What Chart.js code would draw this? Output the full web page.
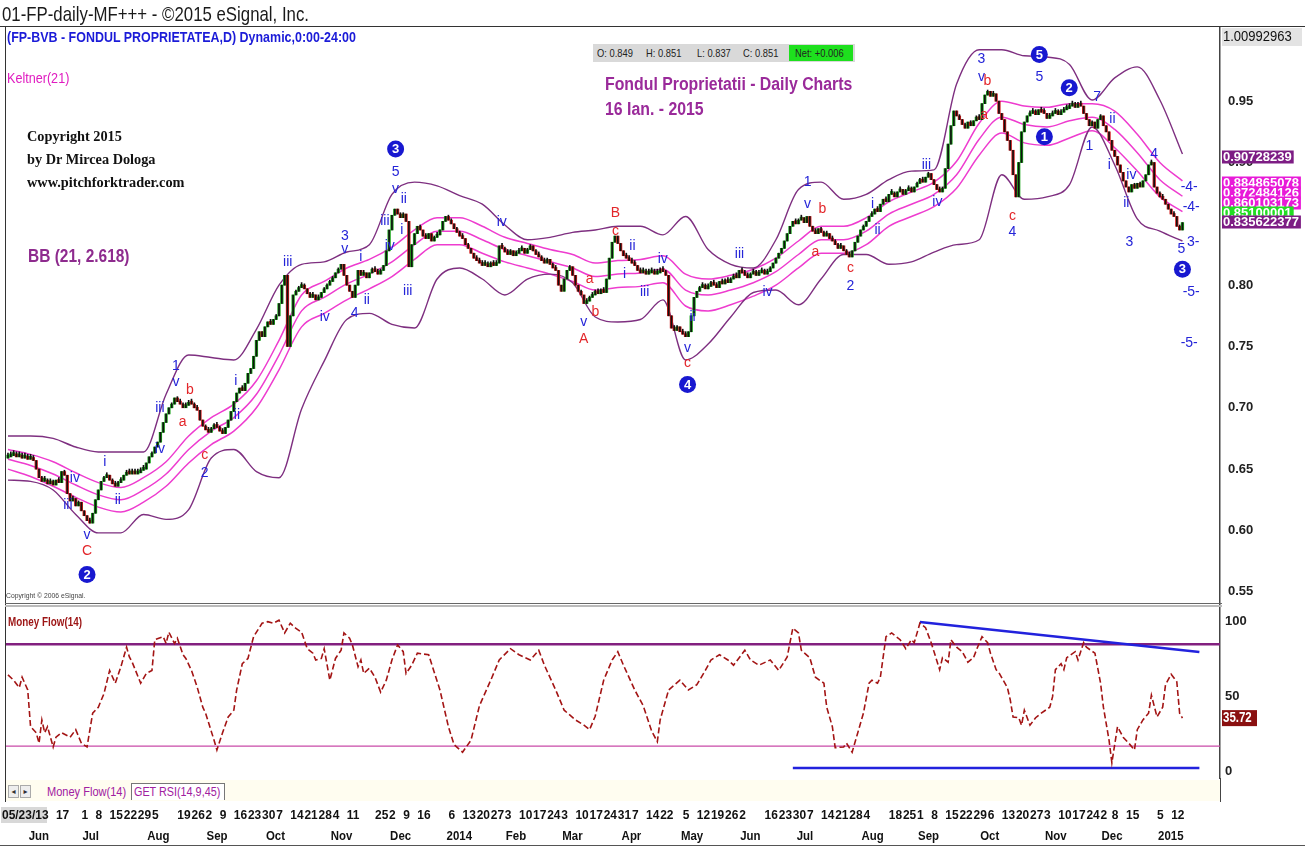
<!DOCTYPE html>
<html><head><meta charset="utf-8">
<script src="https://cdn.jsdelivr.net/npm/chart.js"></script>
<style>
html,body{margin:0;padding:0;background:#fff;}
body{width:1305px;height:847px;position:relative;overflow:hidden;font-family:"Liberation Sans",Arial,sans-serif;}
canvas{position:absolute;left:0;}
#c1{top:0}
#c2{top:605px}
.t{position:absolute;white-space:nowrap;line-height:1;transform-origin:0 0;}
.ln{position:absolute;}
</style></head>
<body>
<canvas id="c1" width="1305" height="605"></canvas>
<canvas id="c2" width="1305" height="242"></canvas>

<div class="t" style="left:2px;top:3px;font-size:21px;color:#1a1a1a;transform:scaleX(0.8)">01-FP-daily-MF+++ - ©2015 eSignal, Inc.</div>
<div class="ln" style="left:0;top:26px;width:1305px;height:1px;background:#333"></div>
<div class="ln" style="left:5px;top:27px;width:1px;height:775px;background:#333"></div>
<div class="t" style="left:7px;top:30px;font-size:14px;font-weight:bold;color:#1b1bd8;transform:scaleX(0.89)">(FP-BVB - FONDUL PROPRIETATEA,D) Dynamic,0:00-24:00</div>
<div class="t" style="left:7px;top:71px;font-size:14px;color:#e01bc0;transform:scaleX(0.9)">Keltner(21)</div>
<div class="t" style="left:27px;top:125px;font-family:'Liberation Serif',serif;font-weight:bold;font-size:14.3px;color:#111;line-height:23px">Copyright 2015<br>by Dr Mircea Dologa<br>www.pitchforktrader.com</div>
<div class="t" style="left:28px;top:247px;font-size:18px;font-weight:bold;color:#8e2b8e;transform:scaleX(0.86)">BB (21, 2.618)</div>

<div class="ln" style="left:593px;top:44px;width:262px;height:18px;background:#d9d9d9"></div>
<div class="t" style="left:597px;top:48px;font-size:11px;color:#222;transform:scaleX(0.85)">O: 0.849</div>
<div class="t" style="left:646px;top:48px;font-size:11px;color:#222;transform:scaleX(0.85)">H: 0.851</div>
<div class="t" style="left:697px;top:48px;font-size:11px;color:#222;transform:scaleX(0.85)">L: 0.837</div>
<div class="t" style="left:743px;top:48px;font-size:11px;color:#222;transform:scaleX(0.85)">C: 0.851</div>
<div class="ln" style="left:789px;top:45px;width:64px;height:16px;background:#1ee01e"></div>
<div class="t" style="left:795px;top:48px;font-size:11px;color:#222;transform:scaleX(0.85)">Net: +0.006</div>

<div class="t" style="left:605px;top:75px;font-size:18px;font-weight:bold;color:#9a2a9a;transform:scaleX(0.88)">Fondul Proprietatii - Daily Charts</div>
<div class="t" style="left:605px;top:100px;font-size:18px;font-weight:bold;color:#9a2a9a;transform:scaleX(0.88)">16 Ian. - 2015</div>
<div class="t" style="left:6px;top:592px;font-size:8px;color:#444;transform:scaleX(0.85)">Copyright © 2006 eSignal.</div>

<div class="ln" style="left:5px;top:603px;width:1217px;height:1px;background:#666"></div>
<div class="ln" style="left:5px;top:605px;width:1217px;height:2px;background:#bbb"></div>
<div class="t" style="left:8px;top:615px;font-size:13px;font-weight:bold;color:#9c1414;transform:scaleX(0.76)">Money Flow(14)</div>

<div class="ln" style="left:6px;top:780px;width:1214px;height:21px;background:#fffdf0"></div>
<div class="ln" style="left:1220px;top:778px;width:1px;height:24px;background:#444"></div>
<div class="t" style="left:8px;top:785px;width:9px;height:11px;border:1px solid #aaa;background:#eee;font-family:'DejaVu Sans';font-size:8px;text-align:center;line-height:11px;color:#333">◂</div>
<div class="t" style="left:20px;top:785px;width:9px;height:11px;border:1px solid #aaa;background:#eee;font-family:'DejaVu Sans';font-size:8px;text-align:center;line-height:11px;color:#333">▸</div>
<div class="t" style="left:47px;top:786px;font-size:12px;color:#a020a0;transform:scaleX(0.92)">Money Flow(14)</div>
<div class="ln" style="left:131px;top:783px;width:92px;height:16px;border:1px solid #777;border-bottom:none;background:#fff"></div>
<div class="t" style="left:134px;top:786px;font-size:12px;color:#a020a0;transform:scaleX(0.9)">GET RSI(14,9,45)</div>
<div class="ln" style="left:0;top:845px;width:1305px;height:1px;background:#555"></div>

<script>
// ---------------- DATA ----------------
// daily closes, bar 0 = 05/23/13 ... bar 416 = 01/16/15
const closes = [
0.660,0.661,0.662,0.660,0.661,0.659,0.660,0.658,0.659,0.657,
0.650,0.643,0.640,
0.641,0.638,0.640,0.637,0.641,0.639,
0.648,0.645,
0.630,0.624,0.626,0.620,0.623,
0.616,0.612,0.608,0.606,
0.614,0.625,0.633,0.640,
0.643,0.645,0.641,0.638,0.636,0.639,0.641,
0.645,0.647,0.646,0.648,0.646,0.647,0.649,0.650,
0.655,0.660,0.663,0.668,0.672,
0.680,0.688,0.695,0.700,0.703,
0.708,0.705,0.703,0.700,
0.702,0.704,0.703,0.700,0.698,
0.690,0.685,0.682,0.680,0.683,
0.686,0.684,0.681,0.679,0.684,
0.690,0.697,0.705,0.712,
0.716,0.714,0.720,0.728,0.732,
0.742,0.755,0.762,0.758,
0.766,0.770,0.768,0.772,0.775,
0.785,0.800,0.808,0.750,0.775,0.792,
0.795,0.798,0.800,0.797,0.793,0.790,0.792,0.788,0.790,0.794,0.797,0.800,
0.803,0.806,0.810,0.813,0.817,
0.808,0.800,0.795,0.790,
0.800,0.812,0.808,0.810,0.806,
0.810,0.813,0.811,0.809,0.812,0.816,
0.828,0.845,0.857,0.862,
0.858,0.855,0.858,0.852,
0.815,
0.833,0.842,0.848,0.845,
0.840,0.838,0.842,0.836,0.839,0.841,0.845,0.852,
0.856,0.853,0.850,
0.846,0.843,0.840,0.838,0.833,0.830,
0.826,0.822,0.820,0.818,0.816,
0.817,0.815,0.818,0.816,0.818,
0.832,
0.830,0.827,0.825,0.828,0.824,0.826,
0.828,0.830,0.826,0.829,0.832,0.828,0.825,0.823,
0.820,0.818,0.821,0.817,0.814,0.812,
0.800,0.795,0.805,0.812,
0.815,0.808,0.800,0.795,0.792,
0.785,0.787,0.790,
0.792,0.795,0.793,0.796,0.794,
0.805,0.822,0.835,0.840,
0.834,0.828,0.824,0.822,0.820,
0.818,0.816,0.812,0.810,0.811,0.809,
0.810,0.811,0.809,0.810,0.812,0.811,0.808,
0.775,
0.765,0.763,0.766,0.762,0.760,0.758,0.762,
0.775,0.790,0.795,0.798,
0.800,0.797,0.799,0.802,0.800,0.798,0.803,0.801,0.804,0.802,0.805,0.807,0.806,
0.812,0.810,0.808,0.806,0.809,0.811,0.808,0.810,0.812,0.809,0.811,0.814,
0.818,0.822,0.826,0.830,0.836,0.842,0.848,
0.852,0.850,0.853,0.855,0.851,0.856,
0.848,0.844,0.842,0.846,0.843,0.840,0.842,0.838,
0.836,0.833,0.830,0.832,0.828,0.825,0.823,
0.828,0.835,0.840,0.845,0.848,0.852,0.856,
0.858,0.862,0.860,0.866,0.870,0.868,0.874,
0.875,0.872,0.876,0.878,0.874,0.877,0.879,0.876,
0.880,0.883,0.886,0.884,0.888,0.891,0.886,0.882,0.878,
0.876,0.879,
0.895,0.915,0.930,0.942,0.938,
0.935,0.931,0.928,0.933,0.930,0.934,0.937,0.935,
0.948,0.955,0.958,0.954,0.956,
0.950,0.940,0.935,
0.925,0.918,0.910,
0.890,0.872,
0.900,0.925,0.933,
0.938,0.940,0.942,0.939,0.943,0.941,0.940,0.936,0.938,0.940,0.942,0.939,0.941,0.943,
0.944,0.946,0.948,0.945,0.947,0.946,
0.940,0.935,0.930,0.933,0.928,
0.935,0.938,0.930,0.925,0.918,
0.910,0.905,0.898,0.892,
0.885,0.880,0.876,0.882,
0.879,0.883,0.880,0.885,
0.890,0.898,0.900,
0.880,0.875,0.872,0.870,
0.866,0.862,0.858,0.856,
0.848,0.845,0.851
];
const firstOpen = 0.659;

// indicator bands read every 8 bars
const bandBars = [0,8,16,24,32,40,48,56,64,72,80,88,96,104,112,120,128,136,144,152,160,168,176,184,192,200,208,216,224,232,240,248,256,264,272,280,288,296,304,312,320,328,336,344,352,360,368,376,384,392,400,408,416];
const bbUpper = [0.677,0.677,0.675,0.668,0.664,0.664,0.664,0.711,0.743,0.741,0.739,0.764,0.800,0.817,0.819,0.827,0.833,0.874,0.884,0.881,0.873,0.866,0.849,0.837,0.839,0.843,0.845,0.848,0.848,0.841,0.856,0.829,0.817,0.814,0.837,0.878,0.884,0.870,0.874,0.886,0.893,0.894,0.964,0.992,0.992,0.987,0.986,0.980,0.951,0.969,0.978,0.951,0.907];
const bbLower = [0.641,0.640,0.633,0.613,0.598,0.598,0.613,0.609,0.617,0.659,0.666,0.648,0.643,0.699,0.738,0.772,0.777,0.768,0.765,0.805,0.814,0.805,0.792,0.805,0.809,0.802,0.774,0.770,0.772,0.788,0.739,0.752,0.774,0.794,0.796,0.784,0.805,0.825,0.825,0.817,0.819,0.827,0.833,0.837,0.890,0.870,0.872,0.882,0.929,0.898,0.854,0.844,0.836];
const kUpper = [0.666,0.662,0.656,0.647,0.639,0.635,0.643,0.656,0.677,0.692,0.703,0.722,0.755,0.792,0.803,0.814,0.821,0.831,0.845,0.855,0.855,0.848,0.839,0.834,0.829,0.825,0.818,0.820,0.821,0.824,0.809,0.805,0.808,0.813,0.822,0.836,0.848,0.848,0.855,0.868,0.876,0.884,0.901,0.932,0.950,0.946,0.945,0.948,0.948,0.942,0.923,0.900,0.885];
const kMid = [0.658,0.653,0.646,0.637,0.629,0.625,0.633,0.646,0.666,0.681,0.692,0.711,0.743,0.779,0.790,0.801,0.809,0.819,0.833,0.844,0.844,0.837,0.829,0.824,0.819,0.814,0.807,0.809,0.810,0.813,0.796,0.792,0.796,0.802,0.811,0.825,0.837,0.837,0.844,0.858,0.866,0.874,0.890,0.919,0.937,0.931,0.929,0.934,0.937,0.927,0.908,0.886,0.8725];
const kLower = [0.650,0.644,0.636,0.627,0.619,0.615,0.623,0.636,0.655,0.670,0.681,0.700,0.731,0.766,0.777,0.788,0.797,0.807,0.821,0.833,0.833,0.826,0.819,0.814,0.809,0.803,0.796,0.798,0.799,0.802,0.783,0.779,0.784,0.791,0.800,0.814,0.826,0.826,0.833,0.848,0.856,0.864,0.879,0.906,0.924,0.916,0.914,0.920,0.926,0.912,0.893,0.872,0.860];

// Money Flow(14)
const mfBars = [0,2,4,5,7,8,10,11,12,13,14,16,17,19,22,24,26,28,30,32,34,36,38,40,42,43,44,47,49,51,52,55,56,57,59,60,62,63,65,67,69,70,73,74,76,78,80,81,83,85,87,90,92,94,96,98,100,102,104,106,108,109,111,112,114,116,118,119,121,122,124,125,126,128,130,132,134,136,138,140,141,143,145,149,153,156,158,161,164,167,171,174,178,181,185,188,190,194,197,201,204,206,208,211,214,216,218,222,225,228,230,231,234,238,241,244,247,249,252,255,257,261,263,266,270,273,276,278,280,281,284,286,289,290,292,293,296,297,299,301,303,305,306,308,309,311,313,316,318,320,321,323,325,327,330,331,333,334,336,338,340,342,343,345,347,348,350,351,354,355,356,358,359,360,362,364,366,369,370,371,373,374,375,378,379,381,382,385,387,388,390,391,393,395,397,399,400,402,404,405,407,409,410,412,414,415,416];
const mfValues = [64.5,61,56,63,54.5,30,26,19,34.5,26,30,16.5,23,26,23,28,19,16.5,39,43,52,67.5,59,70,83,76.5,73,59,65.5,67.5,88,90,85.5,93,85.5,89,78,75.5,67.5,56.5,43,39,21,14.5,26,36.5,41,54.5,72,75.5,90,99,100,99,101,92.5,99,95.5,93,82,79,74.5,75.5,82,61,75.5,81,92.5,89,84.5,70,74.5,65.5,69,63,53,61,74.5,84.5,80,65.5,71,79,78,54.5,30,18,13,21,44,61,74.5,82,78,74.5,81,71,54.5,41,34.5,31,28,37,61,74.5,80,71,54.5,44,27,20,34.5,54.5,61,54.5,58,67.5,74.5,78,74.5,71,81,74.5,71,74.5,67.5,76.5,95.8,92.5,81,76,63,59,43,30,16,16.5,19,13,26,39,59,61,59,63,90,92.5,88,82,88,86,99,96,86,68,76,73,88,83,80,73,76,81,90,86,79,68,66,56,48,36.5,36,31,41,31,36,39,43,50,68,72,68,76,80,74.5,86,83,79,59,43,21,6,30,23,19,14.5,28,34.5,39,51,36.5,43,58,65,60,39,35.72];
const mfUpperLevel = 85, mfLowerLevel = 17;
const mfTrendTop = {bars:[323,422], values:[99.8,79.8]};
const mfTrendBottom = {bars:[278,422], values:[2.5,2.5]};

// axis labels
const priceTicks = [0.55,0.60,0.65,0.70,0.75,0.80,0.85,0.90,0.95];
const mfTicks = [0,50,100];
const dayTickBars = [0,17,26,31,36,41,46,51,60,65,70,75,80,85,90,95,100,105,110,115,120,130,135,140,145,156,161,166,171,176,181,186,191,196,201,206,211,216,221,226,231,239,244,249,254,259,268,273,278,283,288,293,298,303,312,317,322,327,332,337,342,347,352,357,362,367,372,377,382,387,391,396,407,412];
const dayTickText = ['05/23/13','17','1','8','15','22','29','5','19','26','2','9','16','23','30','7','14','21','28','4','11','25','2','9','16','6','13','20','27','3','10','17','24','3','10','17','24','31','7','14','22','5','12','19','26','2','16','23','30','7','14','21','28','4','18','25','1','8','15','22','29','6','13','20','27','3','10','17','24','2','8','15','5','12'];
const monthBars = [7,26,49,70,91,114,135,155,176,196,217,238,259,279,302,322,344,367,387,407];
const monthText = ['Jun','Jul','Aug','Sep','Oct','Nov','Dec','2014','Feb','Mar','Apr','May','Jun','Jul','Aug','Sep','Oct','Nov','Dec','2015'];

// Elliott wave annotations: [bar, price, text, kind]  b=blue r=red c=circled
const waveLabels = [
[21.2,0.621,'iii','b'],[23.7,0.643,'iv','b'],[28.0,0.596,'v','b'],[28.0,0.583,'C','r'],[28.0,0.564,'2','c'],
[34.3,0.656,'i','b'],[38.9,0.625,'ii','b'],[53.8,0.666,'iv','b'],[53.8,0.700,'iii','b'],
[59.5,0.734,'1','b'],[59.5,0.721,'v','b'],[64.4,0.714,'b','r'],[61.9,0.688,'a','r'],[69.7,0.661,'c','r'],[69.7,0.647,'2','b'],
[80.7,0.722,'i','b'],[81.1,0.694,'ii','b'],[99.1,0.819,'iii','b'],[112.2,0.774,'iv','b'],
[119.3,0.840,'3','b'],[119.3,0.829,'v','b'],[122.8,0.777,'4','b'],[125.0,0.823,'i','b'],[127.1,0.788,'ii','b'],
[133.5,0.852,'iii','b'],[135.2,0.832,'iv','b'],[137.3,0.878,'v','b'],[137.3,0.892,'5','b'],[137.3,0.911,'3','c'],
[140.2,0.870,'ii','b'],[139.5,0.845,'i','b'],[141.6,0.795,'iii','b'],[174.9,0.851,'iv','b'],
[215.2,0.859,'B','r'],[215.2,0.844,'c','r'],[221.2,0.832,'ii','b'],[218.4,0.809,'i','b'],
[206.0,0.805,'a','r'],[208.1,0.778,'b','r'],[203.9,0.770,'v','b'],[203.9,0.756,'A','r'],
[225.5,0.794,'iii','b'],[231.9,0.821,'iv','b'],[242.5,0.774,'ii','b'],[240.7,0.749,'v','b'],[240.7,0.736,'c','r'],[240.7,0.719,'4','c'],
[259.1,0.825,'iii','b'],[269.0,0.794,'iv','b'],[283.2,0.884,'1','b'],[283.2,0.866,'v','b'],[288.5,0.862,'b','r'],[286.0,0.827,'a','r'],
[298.4,0.814,'c','r'],[298.4,0.799,'2','b'],[306.2,0.866,'i','b'],[308.0,0.845,'ii','b'],[325.3,0.898,'iii','b'],[329.2,0.868,'iv','b'],
[344.8,0.984,'3','b'],[344.8,0.970,'v','b'],[346.9,0.966,'b','r'],[345.8,0.939,'a','r'],
[365.3,0.988,'5','c'],[365.3,0.970,'5','b'],[375.9,0.961,'2','c'],[367.1,0.921,'1','c'],[355.8,0.856,'c','r'],[355.8,0.843,'4','b'],
[385.8,0.953,'7','b'],[383.0,0.913,'1','b'],[391.2,0.935,'ii','b'],[390.1,0.898,'i','b'],[397.9,0.890,'iv','b'],[396.1,0.867,'ii','b'],
[397.2,0.835,'3','b'],[406.0,0.907,'4','b'],[418.4,0.880,'-4-','b'],[419.1,0.864,'-4-','b'],[415.6,0.829,'5','b'],
[419.8,0.835,'3-','b'],[416.0,0.813,'3','c'],[419.1,0.794,'-5-','b'],[418.4,0.753,'-5-','b']
];
// right-edge value flags: [text, background, text colour, y]
const sideFlags = [
['0.90728239','#7d1d84','#fff',157],
['0.884865078','#e81ad8','#fff',183],
['0.872484126','#e81ad8','#fff',193],
['0.860103173','#e81ad8','#fff',203],
['0.85100001','#22dd22','#fff',213],
['0.835622377','#7d1d84','#fff',222]
];
const topScaleLabel = '1.00992963';
const mfLast = 35.72;

// ---------------- CHARTS ----------------
const FS = '"Liberation Sans",Arial,sans-serif';
const XMIN = -0.7, XMAX = 429.3;
const pts = (bars, vals) => bars.map((b,k)=>({x:b, y:vals[k]}));
const bodies = closes.map((c,i)=>({x:i, y:[i===0?firstOpen:closes[i-1], c]}));
const upDown = ctx => { const r = ctx.raw; return (r && r.y[1] >= r.y[0]) ? '#16a316' : '#d01818'; };
const bandStyle = (color, w) => ({type:'line', borderColor:color, borderWidth:w, pointRadius:0, cubicInterpolationMode:'monotone', order:5, fill:false});
const noPad = s => { s.paddingTop=0; s.paddingBottom=0; s.paddingLeft=0; s.paddingRight=0; };

function narrowText(ctx, text, x, y, font, color, sx, align){
  ctx.save();
  ctx.font = font; ctx.fillStyle = color; ctx.textBaseline='middle'; ctx.textAlign = align || 'left';
  ctx.translate(x, y); ctx.scale(sx, 1); ctx.fillText(text, 0, 0);
  ctx.restore();
}

const wavePlugin = {
  id:'wave',
  afterDatasetsDraw(chart){
    const {ctx, scales:{x, y}} = chart;
    ctx.save();
    ctx.textAlign='center'; ctx.textBaseline='middle';
    for (const [b,p,t,k] of waveLabels){
      const px = x.getPixelForValue(b), py = y.getPixelForValue(p);
      if (k==='c'){
        ctx.beginPath(); ctx.arc(px,py,8.5,0,Math.PI*2); ctx.fillStyle='#1818d0'; ctx.fill();
        ctx.fillStyle='#fff'; ctx.font='bold 13px '+FS; ctx.fillText(t,px,py+0.5);
      } else {
        ctx.fillStyle = k==='r' ? '#e3262a' : '#2424d8';
        ctx.font = '14px '+FS;
        ctx.fillText(t,px,py);
      }
    }
    ctx.restore();
  },
  afterDraw(chart){
    const {ctx} = chart;
    ctx.save();
    ctx.fillStyle='#e3e3e3'; ctx.fillRect(1222,28,80,18);
    narrowText(ctx, topScaleLabel, 1223, 37.5, '14px '+FS, '#111', 0.93);
    ctx.font='bold 13px '+FS;
    for (const [t,bg,fg,yy] of sideFlags){
      const w = ctx.measureText(t).width + 3;
      ctx.fillStyle=bg; ctx.fillRect(1222,yy-6.5,w,13);
      narrowText(ctx, t, 1223, yy+0.5, 'bold 13px '+FS, fg, 1.0);
    }
    ctx.restore();
  }
};

new Chart(document.getElementById('c1'), {
  type:'bar',
  data:{datasets:[
    {type:'bar', data:bodies, backgroundColor:upDown, barThickness:2.6, minBarLength:3, grouped:false, order:2},
    {type:'bar', data:bodies, backgroundColor:'#111', barThickness:1, minBarLength:5, grouped:false, order:1},
    Object.assign({data:pts(bandBars,bbUpper)}, bandStyle('#7e2f80',1.4)),
    Object.assign({data:pts(bandBars,bbLower)}, bandStyle('#7e2f80',1.4)),
    Object.assign({data:pts(bandBars,kUpper)}, bandStyle('#ee3ccf',1.5)),
    Object.assign({data:pts(bandBars,kMid)}, bandStyle('#ee3ccf',1.5)),
    Object.assign({data:pts(bandBars,kLower)}, bandStyle('#ee3ccf',1.5))
  ]},
  options:{
    responsive:false, animation:false, events:[],
    layout:{padding:{top:27,left:6,right:0,bottom:1}},
    plugins:{legend:{display:false}, tooltip:{enabled:false}},
    scales:{
      x:{type:'linear', min:XMIN, max:XMAX, bounds:'data', offset:false, display:false},
      y:{position:'right', min:0.54, max:1.0105, bounds:'data',
         grid:{display:false, drawTicks:false}, border:{display:true, color:'#444', width:1.5},
         afterFit:s=>{s.width=85; noPad(s);},
         afterBuildTicks:s=>{s.ticks=priceTicks.map(v=>({value:v}));},
         ticks:{padding:8, color:'#222', font:{family:FS, size:13, weight:'bold'}, callback:v=>Number(v).toFixed(2)}}
    }
  },
  plugins:[wavePlugin]
});

const mfPlugin = {
  id:'mfbox',
  afterDraw(chart){
    const {ctx, scales:{x, y}} = chart;
    const py = y.getPixelForValue(mfLast);
    ctx.save();
    ctx.fillStyle='#8a1010'; ctx.fillRect(1222,py-8,35,16);
    narrowText(ctx, mfLast.toFixed(2), 1223, py+0.5, 'bold 14px '+FS, '#fff', 0.82);
    // date axis labels (day row and month row), positioned by the x scale
    const dayY = 210, monY = 231;
    ctx.fillStyle='#d8d8d8'; ctx.fillRect(1, dayY-8, 46, 16);
    dayTickBars.forEach((b,k)=>{
      narrowText(ctx, dayTickText[k], x.getPixelForValue(b) - (k===0?6:0), dayY, 'bold 13px '+FS, '#111', 0.92);
    });
    monthBars.forEach((b,k)=>{
      narrowText(ctx, monthText[k], x.getPixelForValue(b)+1, monY, 'bold 13px '+FS, '#111', 0.88);
    });
    ctx.restore();
  }
};

new Chart(document.getElementById('c2'), {
  type:'line',
  data:{datasets:[
    {data:pts(mfBars,mfValues), borderColor:'#a31414', borderWidth:1.6, borderDash:[6,3], pointRadius:0, tension:0, order:0},
    {data:[{x:XMIN,y:mfUpperLevel},{x:XMAX,y:mfUpperLevel}], borderColor:'#82207f', borderWidth:2.5, pointRadius:0, order:3},
    {data:[{x:XMIN,y:mfLowerLevel},{x:XMAX,y:mfLowerLevel}], borderColor:'#c94aa8', borderWidth:1.2, pointRadius:0, order:3},
    {data:pts(mfTrendTop.bars,mfTrendTop.values), borderColor:'#2222dd', borderWidth:2.5, pointRadius:0, order:1},
    {data:pts(mfTrendBottom.bars,mfTrendBottom.values), borderColor:'#2222dd', borderWidth:2.5, pointRadius:0, order:1}
  ]},
  options:{
    responsive:false, animation:false, events:[],
    layout:{padding:{top:2,left:6,right:0,bottom:69}},
    plugins:{legend:{display:false}, tooltip:{enabled:false}},
    scales:{
      x:{type:'linear', min:XMIN, max:XMAX, bounds:'data', offset:false, display:false},
      y:{position:'right', min:-4.2, max:109.8, bounds:'data',
         grid:{display:false, drawTicks:false}, border:{display:true, color:'#444', width:1.5},
         afterFit:s=>{s.width=85; noPad(s);},
         afterBuildTicks:s=>{s.ticks=mfTicks.map(v=>({value:v}));},
         ticks:{padding:5, color:'#222', font:{family:FS, size:13, weight:'bold'}}}
    }
  },
  plugins:[mfPlugin]
});
</script>
</body></html>
